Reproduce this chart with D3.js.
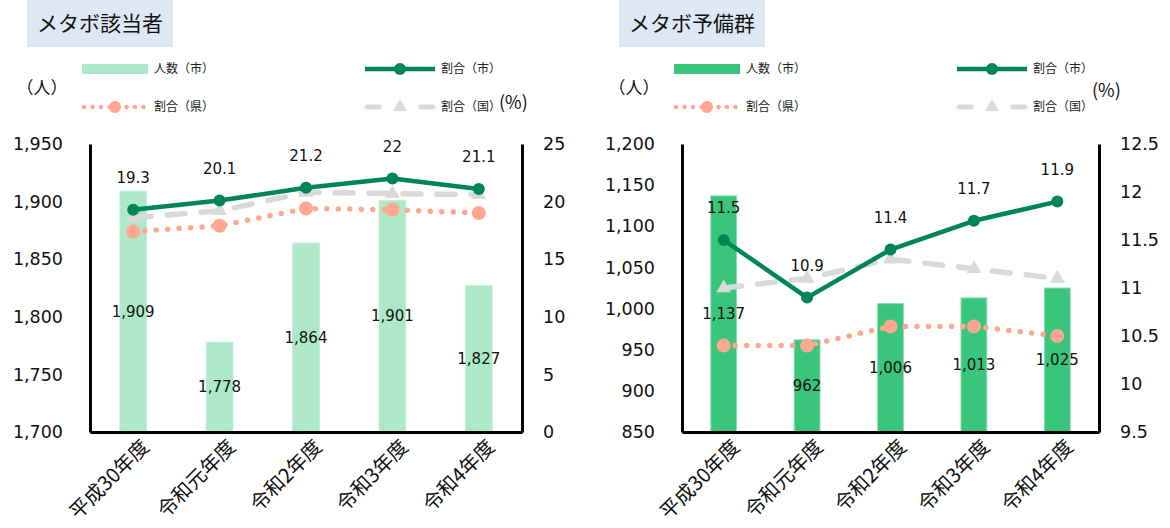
<!DOCTYPE html>
<html>
<head>
<meta charset="utf-8">
<script src="https://cdn.jsdelivr.net/npm/d3@7"></script>
<style>
  html, body { margin: 0; padding: 0; background: #fff; }
  svg { display: block; }
</style>
</head>
<body>
<svg id="chart" width="1170" height="528"></svg>
<script>
// Fiscal years on the category axis
const years = ["平成30年度", "令和元年度", "令和2年度", "令和3年度", "令和4年度"];

// メタボ該当者: people (city) and rates (%) for city / prefecture / nation
const gaitoCount  = [1909, 1778, 1864, 1901, 1827];
const gaitoCity   = [19.3, 20.1, 21.2, 22, 21.1];
const gaitoPref   = [17.4, 17.9, 19.4, 19.3, 19.0];
const gaitoNation = [18.6, 19.2, 20.8, 20.7, 20.6];
const gaitoCountTicks = [1700, 1750, 1800, 1850, 1900, 1950];
const gaitoRateTicks  = [0, 5, 10, 15, 20, 25];

// メタボ予備群
const yobiCount  = [1137, 962, 1006, 1013, 1025];
const yobiCity   = [11.5, 10.9, 11.4, 11.7, 11.9];
const yobiPref   = [10.4, 10.4, 10.6, 10.6, 10.5];
const yobiNation = [11.0, 11.1, 11.3, 11.2, 11.1];
const yobiCountTicks = [850, 900, 950, 1000, 1050, 1100, 1150, 1200];
const yobiRateTicks  = [9.5, 10, 10.5, 11, 11.5, 12, 12.5];

// Legend / series names
const seriesNames = ["人数（市）", "割合（市）", "割合（県）", "割合（国）"];

const COLORS = {
  city: "#008556",
  pref: "#ffa88f",
  nation: "#d9d9d9"
};
const NUM_FONT = "'DejaVu Sans', Verdana, sans-serif";
const JP_FONT = "'Noto Sans CJK JP', 'Noto Sans', sans-serif";

const svg = d3.select("#chart");

function drawPanel(opt) {
  const g = svg.append("g");
  const { x0, x1, yTop, yBot } = opt;

  // title box
  g.append("rect")
    .attr("x", opt.titleX).attr("y", 0)
    .attr("width", opt.titleW).attr("height", 47)
    .attr("fill", "#dde8f4");
  g.append("text")
    .attr("x", opt.titleX + 10).attr("y", 31)
    .attr("font-family", JP_FONT).attr("font-size", 21)
    .attr("fill", "#111")
    .text(opt.title);

  const x = d3.scaleBand().domain(years).range([x0, x1])
    .paddingInner(0.69).paddingOuter(0.345);
  const yL = d3.scaleLinear()
    .domain([opt.countTicks[0], opt.countTicks[opt.countTicks.length - 1]])
    .range([yBot, yTop]);
  const yR = d3.scaleLinear()
    .domain([opt.rateTicks[0], opt.rateTicks[opt.rateTicks.length - 1]])
    .range([yBot, yTop]);
  const cx = d => x(d) + x.bandwidth() / 2;

  // bars
  g.append("g").selectAll("rect")
    .data(opt.count)
    .join("rect")
    .attr("x", (d, i) => x(years[i]))
    .attr("y", d => yL(d))
    .attr("width", x.bandwidth())
    .attr("height", d => yBot - yL(d))
    .attr("fill", opt.barColor)
    .attr("stroke", opt.barEdge).attr("stroke-width", 1);

  // axes
  const axL = g.append("g").attr("transform", `translate(${x0},0)`)
    .call(d3.axisLeft(yL).tickValues(opt.countTicks).tickSize(0).tickSizeOuter(0)
      .tickPadding(27).tickFormat(d3.format(",")));
  const axR = g.append("g").attr("transform", `translate(${x1},0)`)
    .call(d3.axisRight(yR).tickValues(opt.rateTicks).tickSize(0).tickSizeOuter(0)
      .tickPadding(21).tickFormat(d => String(d)));
  const axB = g.append("g").attr("transform", `translate(0,${yBot})`)
    .call(d3.axisBottom(x).tickSize(0).tickSizeOuter(0));
  [axL, axR, axB].forEach(a => {
    a.select(".domain").attr("stroke", "#000").attr("stroke-width", 3);
  });
  [axL, axR].forEach(a => {
    a.selectAll("text").attr("font-family", NUM_FONT).attr("font-size", 17.5).attr("fill", "#111");
  });
  axB.selectAll(".tick text")
    .attr("font-family", JP_FONT).attr("font-size", 20).attr("fill", "#111")
    .attr("text-anchor", "end")
    .attr("dy", "0.35em")
    .attr("transform", "translate(10,9) rotate(-45)");

  const line = yS => d3.line().x((d, i) => cx(years[i])).y(d => yS(d));

  // nation (grey dashed, triangles)
  g.append("path").datum(opt.nation)
    .attr("d", line(yR))
    .attr("fill", "none").attr("stroke", COLORS.nation)
    .attr("stroke-width", 5.5).attr("stroke-linecap", "round")
    .attr("stroke-dasharray", "18,16");
  const tri = d3.symbol().type(d3.symbolTriangle).size(95);
  g.append("g").selectAll("path")
    .data(opt.nation).join("path")
    .attr("d", tri)
    .attr("transform", (d, i) => `translate(${cx(years[i])},${yR(d)})`)
    .attr("fill", COLORS.nation);

  // prefecture (salmon dotted)
  g.append("path").datum(opt.pref)
    .attr("d", line(yR))
    .attr("fill", "none").attr("stroke", COLORS.pref)
    .attr("stroke-width", 5.5).attr("stroke-linecap", "round")
    .attr("stroke-dasharray", "0,11.5");
  g.append("g").selectAll("circle")
    .data(opt.pref).join("circle")
    .attr("cx", (d, i) => cx(years[i])).attr("cy", d => yR(d))
    .attr("r", 7).attr("fill", COLORS.pref);

  // city (solid green)
  g.append("path").datum(opt.city)
    .attr("d", line(yR))
    .attr("fill", "none").attr("stroke", COLORS.city)
    .attr("stroke-width", 4.5).attr("stroke-linejoin", "round");
  g.append("g").selectAll("circle")
    .data(opt.city).join("circle")
    .attr("cx", (d, i) => cx(years[i])).attr("cy", d => yR(d))
    .attr("r", 6).attr("fill", COLORS.city);

  // bar value labels (centered in bar)
  g.append("g").selectAll("text")
    .data(opt.count).join("text")
    .attr("x", (d, i) => cx(years[i]))
    .attr("y", d => (yL(d) + yBot) / 2)
    .attr("dy", "0.35em")
    .attr("text-anchor", "middle")
    .attr("font-family", NUM_FONT).attr("font-size", 15).attr("fill", "#111")
    .text(d => d3.format(",")(d));

  // city rate labels (above points)
  g.append("g").selectAll("text")
    .data(opt.city).join("text")
    .attr("x", (d, i) => cx(years[i]))
    .attr("y", d => yR(d) - 32)
    .attr("dy", "0.35em")
    .attr("text-anchor", "middle")
    .attr("font-family", NUM_FONT).attr("font-size", 15).attr("fill", "#111")
    .text(d => String(d));

  // unit labels
  g.append("text")
    .attr("x", opt.unitLX).attr("y", 88).attr("dy", "0.35em")
    .attr("text-anchor", "middle")
    .attr("font-family", JP_FONT).attr("font-size", 17).attr("fill", "#111")
    .text("（人）");
  g.append("text")
    .attr("x", opt.unitRX).attr("y", opt.unitRY).attr("dy", "0.35em")
    .attr("font-family", JP_FONT).attr("font-size", 18).attr("fill", "#111")
    .text("(%)");

  // legend
  const lg = g.append("g");
  const r1 = 69, r2 = 107;
  const lx = x0 - 8, lx2 = x0 + 275;
  const txt = (tx, ty, s) => lg.append("text")
    .attr("x", tx).attr("y", ty).attr("dy", "0.35em")
    .attr("font-family", JP_FONT).attr("font-size", 12).attr("fill", "#222")
    .text(s);

  lg.append("rect").attr("x", lx).attr("y", r1 - 5).attr("width", 66).attr("height", 10)
    .attr("fill", opt.barColor);
  txt(lx + 72, r1, seriesNames[0]);

  lg.append("line").attr("x1", lx2).attr("x2", lx2 + 70).attr("y1", r1).attr("y2", r1)
    .attr("stroke", COLORS.city).attr("stroke-width", 4.5);
  lg.append("circle").attr("cx", lx2 + 35).attr("cy", r1).attr("r", 6).attr("fill", COLORS.city);
  txt(lx2 + 76, r1, seriesNames[1]);

  lg.append("line").attr("x1", lx + 2).attr("x2", lx + 66).attr("y1", r2).attr("y2", r2)
    .attr("stroke", COLORS.pref).attr("stroke-width", 4.5)
    .attr("stroke-linecap", "round").attr("stroke-dasharray", "0,8.5");
  lg.append("circle").attr("cx", lx + 33).attr("cy", r2).attr("r", 6).attr("fill", COLORS.pref);
  txt(lx + 72, r2, seriesNames[2]);

  lg.append("line").attr("x1", lx2 + 2).attr("x2", lx2 + 14).attr("y1", r2).attr("y2", r2)
    .attr("stroke", COLORS.nation).attr("stroke-width", 5).attr("stroke-linecap", "round");
  lg.append("line").attr("x1", lx2 + 56).attr("x2", lx2 + 68).attr("y1", r2).attr("y2", r2)
    .attr("stroke", COLORS.nation).attr("stroke-width", 5).attr("stroke-linecap", "round");
  lg.append("path").attr("d", d3.symbol().type(d3.symbolTriangle).size(80))
    .attr("transform", `translate(${lx2 + 35},${r2})`).attr("fill", COLORS.nation);
  txt(lx2 + 76, r2, seriesNames[3]);
}

drawPanel({
  title: "メタボ該当者", titleX: 27, titleW: 146,
  x0: 90, x1: 522, yTop: 144, yBot: 432,
  count: gaitoCount, city: gaitoCity, pref: gaitoPref, nation: gaitoNation,
  countTicks: gaitoCountTicks, rateTicks: gaitoRateTicks,
  barColor: "#ade8c9", barEdge: "#c4efd9",
  unitLX: 42, unitRX: 499, unitRY: 103
});

drawPanel({
  title: "メタボ予備群", titleX: 619, titleW: 146,
  x0: 682, x1: 1099, yTop: 144, yBot: 432,
  count: yobiCount, city: yobiCity, pref: yobiPref, nation: yobiNation,
  countTicks: yobiCountTicks, rateTicks: yobiRateTicks,
  barColor: "#3ac57d", barEdge: "#8fdcb2",
  unitLX: 634, unitRX: 1092, unitRY: 91
});
</script>
</body>
</html>
